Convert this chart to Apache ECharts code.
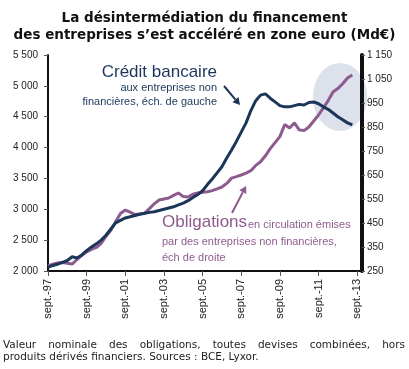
<!DOCTYPE html>
<html><head><meta charset="utf-8">
<script src="https://cdn.jsdelivr.net/npm/echarts@6/dist/echarts.min.js"></script>
<style>html,body{margin:0;padding:0;background:#fff}#c{width:409px;height:369px}</style>
</head><body><div id="c"></div>
<script>
var categories = ["sept.-97","déc.-97","mars-98","juin-98","sept.-98","déc.-98","mars-99","juin-99",
"sept.-99","déc.-99","mars-00","juin-00","sept.-00","déc.-00","mars-01","juin-01",
"sept.-01","déc.-01","mars-02","juin-02","sept.-02","déc.-02","mars-03","juin-03",
"sept.-03","déc.-03","mars-04","juin-04","sept.-04","déc.-04","mars-05","juin-05",
"sept.-05","déc.-05","mars-06","juin-06","sept.-06","déc.-06","mars-07","juin-07",
"sept.-07","déc.-07","mars-08","juin-08","sept.-08","déc.-08","mars-09","juin-09",
"sept.-09","déc.-09","mars-10","juin-10","sept.-10","déc.-10","mars-11","juin-11",
"sept.-11","déc.-11","mars-12","juin-12","sept.-12","déc.-12","mars-13","juin-13",
"sept.-13","déc.-13"];
// Crédit bancaire (left axis, Md€)
var creditBancaire = [2060,2090,2110,2140,2170,2230,2210,2260,2330,2390,2440,2500,2580,2680,2780,2820,
2860,2880,2900,2920,2935,2950,2960,2980,3000,3020,3040,3070,3100,3140,3190,3240,
3300,3400,3490,3590,3690,3830,3960,4100,4250,4400,4600,4760,4850,4870,4800,4740,
4680,4660,4660,4680,4700,4690,4730,4740,4710,4660,4620,4560,4500,4450,4400,4366];
// Obligations (right axis, Md€)
var obligations = [271,278,283,285,282,279,298,315,330,340,348,365,395,420,455,490,
504,495,485,488,490,510,530,546,550,554,565,575,560,558,570,575,
578,580,585,592,600,615,637,643,650,658,668,690,705,730,760,785,
810,860,846,867,838,835,850,875,900,930,960,996,1010,1030,1054,1067];
var leftTicks = [2000,2500,3000,3500,4000,4500,5000,5500];
var rightTicks = [250,350,450,550,650,750,850,950,1050,1150];

var NAVY = '#1b3659', PURPLE = '#8d5b8d', FONT = 'Liberation Sans', FONT2 = 'DejaVu Sans';
function fmt(v){ v = String(v); return v.length > 3 ? v.slice(0, v.length-3) + ' ' + v.slice(-3) : v; }

var chart = echarts.init(document.getElementById('c'), null, {renderer:'canvas'});

function arrow(x0,y0,x1,y1,color){
  var dx=x1-x0, dy=y1-y0, L=Math.sqrt(dx*dx+dy*dy), ux=dx/L, uy=dy/L, hl=7, hw=4;
  var bx=x1-ux*hl, by=y1-uy*hl;
  return [
    {type:'line', shape:{x1:x0,y1:y0,x2:bx,y2:by}, style:{stroke:color,lineWidth:2}, z:10},
    {type:'polygon', shape:{points:[[x1,y1],[bx-uy*hw,by+ux*hw],[bx+uy*hw,by-ux*hw]]}, style:{fill:color}, z:10}
  ];
}
function justify(text, x0, x1, y, font){
  var c = document.createElement('canvas').getContext('2d');
  c.font = font;
  var words = text.split(' '), widths = words.map(function(w){return c.measureText(w).width;});
  var tot = widths.reduce(function(a,b){return a+b;},0);
  var gap = (x1-x0-tot)/(words.length-1), x=x0, out=[];
  words.forEach(function(w,i){
    out.push({type:'text', x:x, y:y, style:{text:w, font:font, fill:'#222', verticalAlign:'middle'}});
    x += widths[i]+gap;
  });
  return out;
}
var NOTE_FONT = '10.5px ' + FONT2;

var graphics = [
  {type:'circle', shape:{cx:0, cy:0, r:34}, x:340, y:97, scaleX:0.8, style:{fill:'#dde1ec'}, z:0},
  {type:'text', x:217, y:72, style:{text:'Crédit bancaire', font:'17px '+FONT, fill:NAVY, align:'right', verticalAlign:'middle'}, z:10},
  {type:'text', x:217, y:88, style:{text:'aux entreprises non', font:'11px '+FONT, fill:NAVY, align:'right', verticalAlign:'middle'}, z:10},
  {type:'text', x:217, y:102, style:{text:'financières, éch. de gauche', font:'11px '+FONT, fill:NAVY, align:'right', verticalAlign:'middle'}, z:10},
  {type:'text', x:162, y:222, style:{text:'Obligations', font:'17px '+FONT, fill:PURPLE, verticalAlign:'middle'}, z:10},
  {type:'text', x:248, y:225, style:{text:'en circulation émises', font:'11px '+FONT, fill:PURPLE, verticalAlign:'middle'}, z:10},
  {type:'text', x:162, y:242, style:{text:'par des entreprises non financières,', font:'11px '+FONT, fill:PURPLE, verticalAlign:'middle'}, z:10},
  {type:'text', x:162, y:258, style:{text:'éch de droite', font:'11px '+FONT, fill:PURPLE, verticalAlign:'middle'}, z:10}
].concat(arrow(224,86,240,105,NAVY))
 .concat(arrow(232,213,246,186,PURPLE))
 .concat(justify('Valeur nominale des obligations, toutes devises combinées, hors', 3, 405, 345, NOTE_FONT))
 .concat([{type:'text', x:3, y:357, style:{text:'produits dérivés financiers. Sources : BCE, Lyxor.', font:NOTE_FONT, fill:'#222', verticalAlign:'middle'}}]);

chart.setOption({
  animation:false,
  backgroundColor:'#fff',
  title:{text:'La désintermédiation du financement\ndes entreprises s’est accéléré en zone euro (Md€)',
    left:'center', top:5, textStyle:{fontFamily:FONT2, fontSize:13.5, fontWeight:'bold', color:'#111', lineHeight:17}},
  grid:{left:48, right:47, top:55, bottom:98},
  xAxis:{type:'category', data:categories, boundaryGap:false,
    axisLine:{lineStyle:{color:'#111', width:2}},
    axisTick:{interval:7, length:5, lineStyle:{color:'#555'}},
    axisLabel:{interval:7, rotate:90, margin:8, fontFamily:FONT, fontSize:11, color:'#222'},
    splitLine:{show:false}},
  yAxis:[
    {type:'value', min:2000, max:5500, interval:500, position:'left',
      axisLine:{show:true, lineStyle:{color:'#111', width:2}},
      axisTick:{show:true, length:4, lineStyle:{color:'#555'}},
      axisLabel:{margin:10, fontFamily:FONT, fontSize:10, color:'#222', formatter:fmt, customValues:leftTicks},
      splitLine:{show:false}},
    {type:'value', min:250, max:1150, position:'right',
      axisLine:{show:true, lineStyle:{color:'#111', width:4}},
      axisTick:{show:true, length:3, lineStyle:{color:'#555'}, customValues:rightTicks},
      axisLabel:{margin:5, fontFamily:FONT, fontSize:10, color:'#222', formatter:fmt, customValues:rightTicks},
      splitLine:{show:false}}
  ],
  series:[
    {type:'line', data:creditBancaire, yAxisIndex:0, symbol:'none', lineStyle:{color:NAVY, width:3}, z:3},
    {type:'line', data:obligations, yAxisIndex:1, symbol:'none', lineStyle:{color:PURPLE, width:3}, z:2}
  ],
  graphic:graphics
});
</script></body></html>
